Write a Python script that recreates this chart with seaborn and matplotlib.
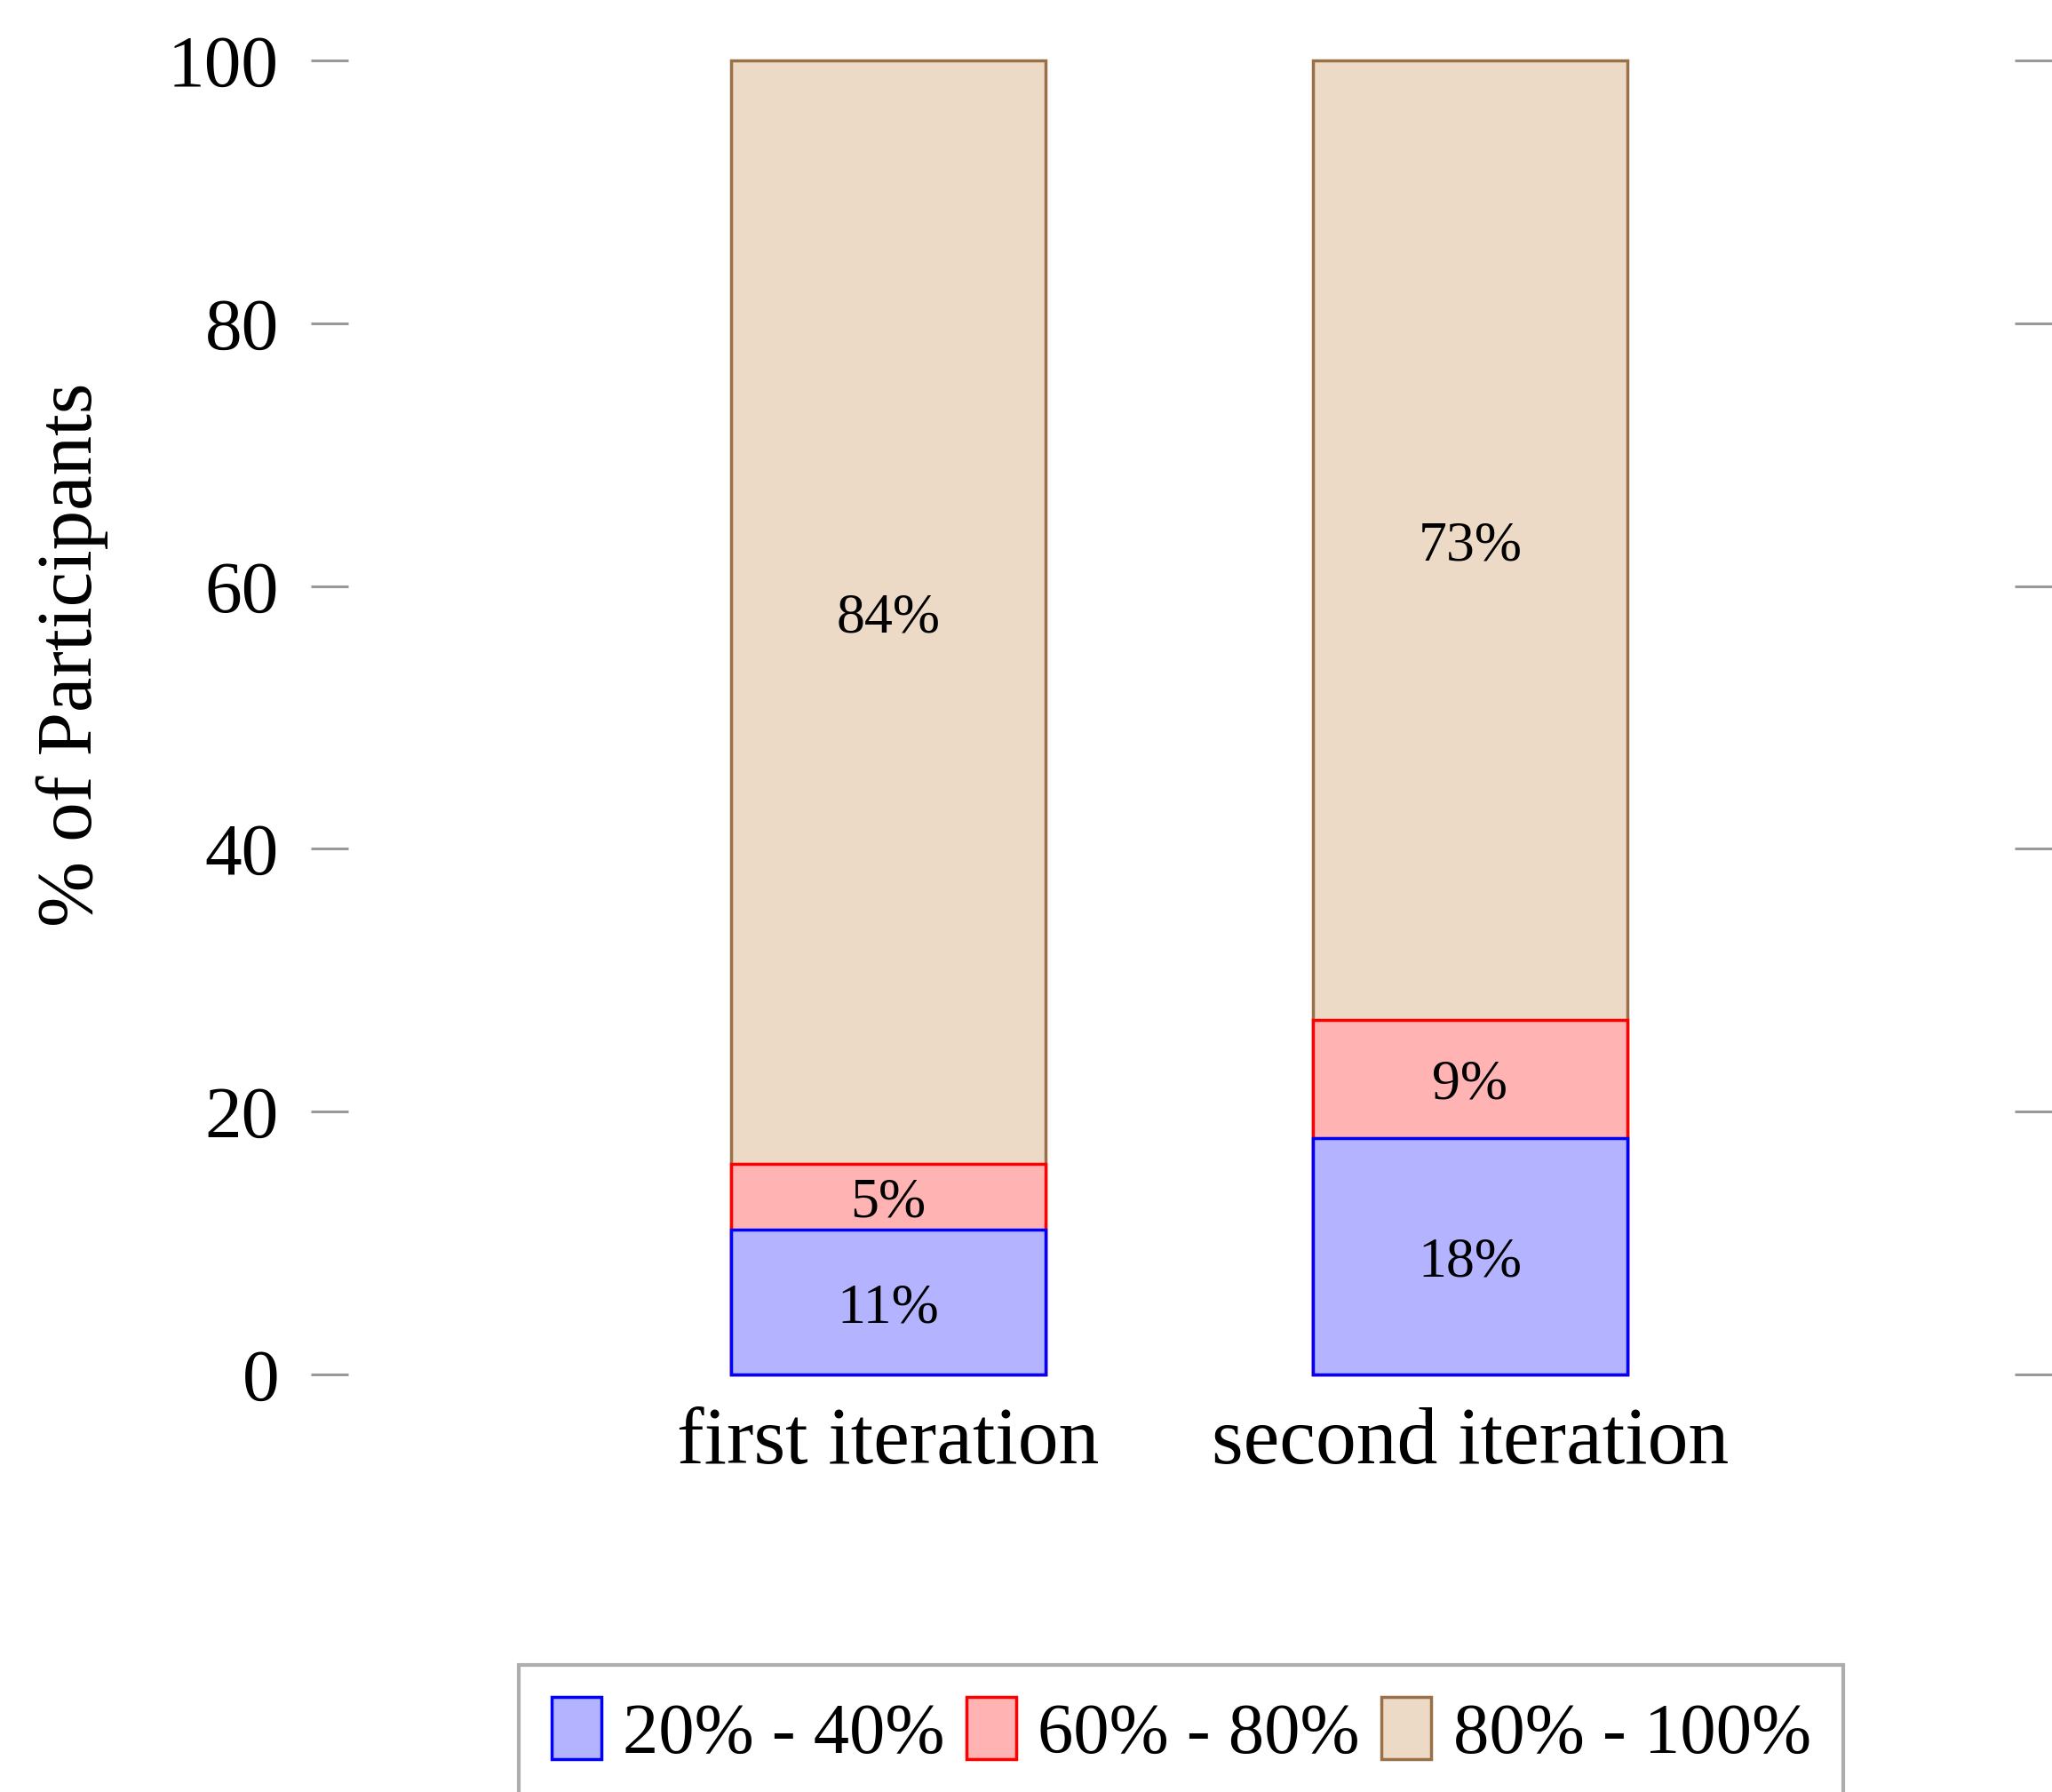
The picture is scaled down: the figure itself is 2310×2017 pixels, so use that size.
import matplotlib
matplotlib.use("Agg")
import matplotlib.pyplot as plt
import pandas as pd
import seaborn as sns
from matplotlib.patches import Patch

# data
iterations = ["first iteration", "second iteration"]
ranges = ["20% - 40%", "60% - 80%", "80% - 100%"]
low = [11, 18]
mid = [5, 9]
high = [84, 73]

fills = ["#b3b3ff", "#ffb3b3", "#ecd9c6"]
edges = ["#0000ff", "#ff0000", "#9a7048"]

sns.set_style("white")
plt.rcParams["font.family"] = ["Liberation Serif", "DejaVu Serif"]
plt.rcParams["text.color"] = "black"
plt.rcParams["axes.labelcolor"] = "black"
plt.rcParams["xtick.labelcolor"] = "black"
plt.rcParams["ytick.labelcolor"] = "black"

df = pd.DataFrame({"iteration": iterations, "low": low, "mid": mid, "high": high})
df["top_mid"] = df["low"] + df["mid"]
df["top_high"] = df["top_mid"] + df["high"]

W, H = 2310, 2017
fig = plt.figure(figsize=(W / 100, H / 100), dpi=100)
ax = fig.add_axes([371 / W, 1 - 1547 / H, (2289 - 371) / W, (1547 - 68) / H])

# stacked bars drawn as cumulative totals, tallest first
layers = [("top_high", fills[2], edges[2]), ("top_mid", fills[1], edges[1]), ("low", fills[0], edges[0])]
for col, fc, ec in layers:
    sns.barplot(data=df, x="iteration", y=col, color=fc, edgecolor=ec, linewidth=2.5,
                width=0.54, saturation=1, errorbar=None, ax=ax)
for p in ax.patches:
    p.set_clip_on(False)

# segment labels
for i in range(len(iterations)):
    bottom = 0
    for seg in [low[i], mid[i], high[i]]:
        ax.text(i, bottom + seg / 2 - 0.5, f"{seg}%", ha="center", va="center", fontsize=46)
        bottom += seg

ax.set_xlim(-0.96, 1.968)
ax.set_ylim(0, 100)
ax.set_yticks([0, 20, 40, 60, 80, 100])
for s in ax.spines.values():
    s.set_visible(False)

ax.tick_params(axis="y", direction="inout", length=30, width=2.2, color="#999999",
               left=True, right=True, labelsize=60, pad=26)
ax.tick_params(axis="x", length=0, labelsize=66, pad=26)
ax.set_xlabel("")
ax.set_ylabel("% of Participants", fontsize=64, va="center")
ax.yaxis.set_label_coords(-0.151, 0.548)

handles = [Patch(facecolor=f, edgecolor=e, linewidth=2.5) for f, e in zip(fills, edges)]
leg = fig.legend(handles, ranges, loc="upper center", bbox_to_anchor=(0.5756, 0.0709), ncol=3,
                 fontsize=58, frameon=True, fancybox=False, edgecolor="#999999",
                 handlelength=0.7, handleheight=0.95, handletextpad=0.3, columnspacing=0.3,
                 borderpad=0.45, borderaxespad=0)
leg.get_frame().set_linewidth(3)

fig.savefig("out.png", dpi=100)
